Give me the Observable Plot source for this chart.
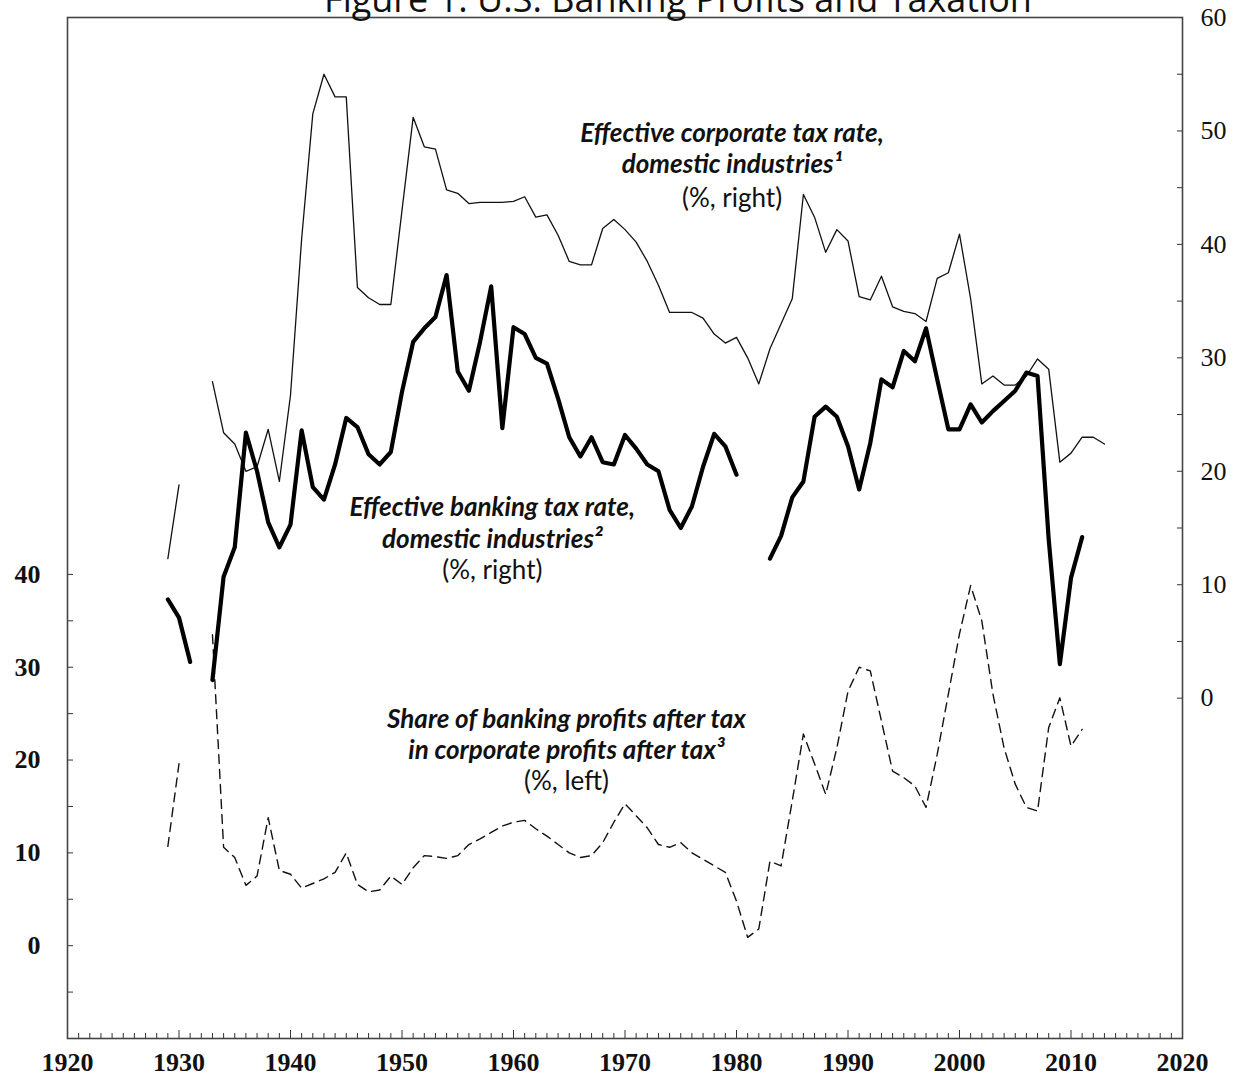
<!DOCTYPE html>
<html>
<head>
<meta charset="utf-8">
<script src="https://cdn.jsdelivr.net/npm/d3@7"></script>
<script src="https://cdn.jsdelivr.net/npm/@observablehq/plot@0.6"></script>
<style>
  html, body { margin: 0; padding: 0; background: white; }
  body { position: relative; width: 1242px; height: 1085px; overflow: hidden; }
  #title { position: absolute; top: -19px; left: 678px; transform: translateX(-50%);
           font-family: "Open Sans", sans-serif; font-size: 36px; line-height: 36px;
           white-space: nowrap; color: #111; z-index: 2; }
  #chart { position: absolute; top: 0; left: 0; }
</style>
</head>
<body>
<div id="title">Figure 1. U.S. Banking Profits and Taxation</div>
<div id="chart"></div>
<script>
// ---- Data ----
const years = d3.range(1929, 2014);

// Effective corporate tax rate, domestic industries (%, right axis)
const corporateRate = [
  12.3, 18.8, null, null, 27.9, 23.4, 22.4, 20.0, 20.4, 23.7, // 1929-1938
  19.1, 26.7, 40.5, 51.5, 55.0, 53.0, 53.0, 36.2, 35.3, 34.7, // 1939-1948
  34.7, 43.0, 51.2, 48.6, 48.4, 44.8, 44.5, 43.6, 43.7, 43.7, // 1949-1958
  43.7, 43.8, 44.2, 42.4, 42.6, 40.8, 38.5, 38.2, 38.2, 41.4, // 1959-1968
  42.2, 41.3, 40.2, 38.5, 36.4, 34.0, 34.0, 34.0, 33.5, 32.1, // 1969-1978
  31.3, 31.8, 30.0, 27.7, 30.8, 33.0, 35.2, 44.4, 42.4, 39.3, // 1979-1988
  41.3, 40.3, 35.4, 35.1, 37.2, 34.5, 34.1, 33.9, 33.2, 37.0, // 1989-1998
  37.5, 40.9, 35.2, 27.7, 28.4, 27.6, 27.6, 28.4, 29.9, 29.0, // 1999-2008
  20.8, 21.6, 23.0, 23.0, 22.4                                // 2009-2013
];

// Effective banking tax rate, domestic industries (%, right axis)
const bankingRate = [
  8.7, 7.1, 3.2, null, 1.6, 10.7, 13.3, 23.4, 20.0, 15.5,     // 1929-1938
  13.3, 15.3, 23.6, 18.6, 17.5, 20.6, 24.7, 23.9, 21.5, 20.6, // 1939-1948
  21.7, 27.0, 31.4, 32.6, 33.6, 37.3, 28.8, 27.1, 31.4, 36.3, // 1949-1958
  23.8, 32.7, 32.1, 30.0, 29.5, 26.4, 23.0, 21.3, 23.0, 20.8, // 1959-1968
  20.6, 23.2, 22.0, 20.6, 20.0, 16.6, 15.0, 16.9, 20.4, 23.3, // 1969-1978
  22.2, 19.7, null, null, 12.3, 14.3, 17.7, 19.1, 24.8, 25.7, // 1979-1988
  24.8, 22.2, 18.4, 22.5, 28.1, 27.4, 30.6, 29.7, 32.6, 28.1, // 1989-1998
  23.7, 23.7, 25.9, 24.3, 25.3, 26.2, 27.1, 28.7, 28.4, 14.0, // 1999-2008
  3.0, 10.6, 14.2, null, null                                 // 2009-2013
];

// Share of banking profits after tax in corporate profits after tax (%, left axis)
const bankingShare = [
  10.7, 19.6, null, null, 33.5, 10.6, 9.5, 6.5, 7.5, 13.8,    // 1929-1938
  8.1, 7.7, 6.2, 6.7, 7.2, 7.9, 10.0, 6.6, 5.8, 6.0,          // 1939-1948
  7.5, 6.6, 8.4, 9.7, 9.6, 9.4, 9.7, 10.9, 11.5, 12.2,        // 1949-1958
  12.9, 13.3, 13.5, 12.6, 11.8, 10.9, 10.0, 9.5, 9.7, 11.1,   // 1959-1968
  13.3, 15.3, 14.0, 12.7, 10.9, 10.6, 11.1, 10.0, 9.3, 8.6,   // 1969-1978
  7.9, 4.8, 0.9, 1.8, 9.1, 8.6, 15.6, 22.8, 19.6, 16.3,       // 1979-1988
  21.3, 27.4, 30.0, 29.6, 24.2, 18.8, 18.1, 17.2, 14.9, 20.6, // 1989-1998
  27.1, 33.6, 38.8, 35.0, 27.1, 21.3, 17.4, 14.9, 14.5, 23.5, // 1999-2008
  26.7, 21.5, 23.3, null, null                                // 2009-2013
];

// Axis ticks
const xMajorTicks = d3.range(1920, 2021, 10);
const xMinorTicks = d3.range(1920, 2021, 1).filter(d => d % 10 !== 0);
const leftTickValues = d3.range(-5, 41, 5);
const leftTickLabels = [0, 10, 20, 30, 40];
const rightTickValues = d3.range(0, 61, 5);
const rightTickLabels = [0, 10, 20, 30, 40, 50, 60];

// Series annotations (text lines)
const labelLines = [
  "Effective corporate tax rate,", "domestic industries\u00B9", "(%, right)",
  "Effective banking tax rate,", "domestic industries\u00B2", "(%, right)",
  "Share of banking profits after tax", "in corporate profits after tax\u00B3", "(%, left)"
];

// ---- Scales: left axis [-10,100] shares the frame with right axis [-30,60] ----
const LEFT = [-10, 100], RIGHT = [-30, 60];
const leftToRight = v => RIGHT[0] + (v - LEFT[0]) * (RIGHT[1] - RIGHT[0]) / (LEFT[1] - LEFT[0]);
const rightToLeft = r => LEFT[0] + (r - RIGHT[0]) * (LEFT[1] - LEFT[0]) / (RIGHT[1] - RIGHT[0]);

const rows = (vals, conv) => years.map((year, i) => ({
  year, value: vals[i] == null ? NaN : conv(vals[i])
}));
const corporateRows = rows(corporateRate, v => v);
const bankingRows = rows(bankingRate, v => v);
const shareRows = rows(bankingShare, leftToRight);

// annotation placement (year, right-axis value)
const labelPlacement = [
  [1979.6, 49.75, "head"], [1979.6, 47.0, "head"], [1979.6, 44.05, "unit"],
  [1958.1, 16.75, "head"], [1958.1, 13.95, "head"], [1958.1, 11.2, "unit"],
  [1964.75, -1.9, "head"], [1964.75, -4.6, "head"], [1964.75, -7.4, "unit"]
];
const labelRows = labelLines.map((t, i) => ({
  text: t, year: labelPlacement[i][0], value: labelPlacement[i][1], kind: labelPlacement[i][2]
}));

const serif = "'Liberation Serif', 'DejaVu Serif', serif";
const sans = "Lato, 'Open Sans', sans-serif";

const chart = Plot.plot({
  width: 1242,
  height: 1085,
  marginLeft: 67,
  marginRight: 60,
  marginTop: 17,
  marginBottom: 47,
  x: {domain: [1920, 2020], label: null},
  y: {domain: RIGHT, label: null},
  style: {background: "white", color: "#111"},
  marks: [
    // ticks (inward)
    Plot.axisX({ticks: xMinorTicks, tickSize: -5, text: null, label: null, stroke: "#333"}),
    Plot.axisX({ticks: xMajorTicks, tickSize: -8, text: null, label: null, stroke: "#333"}),
    Plot.axisX({ticks: xMajorTicks, tickSize: 0, tickPadding: 14, label: null,
      tickFormat: d => String(d), fontSize: 26, fontWeight: "bold", fontFamily: serif, fill: "#111"}),
    Plot.axisY({anchor: "left", ticks: leftTickValues.map(leftToRight), tickSize: -6, text: null, label: null, stroke: "#333"}),
    Plot.axisY({anchor: "left", ticks: leftTickLabels.map(leftToRight), tickSize: 0, tickPadding: 27, label: null,
      tickFormat: d => String(Math.round(rightToLeft(d))), fontSize: 26, fontWeight: "bold", fontFamily: serif, fill: "#111"}),
    Plot.axisY({anchor: "right", ticks: rightTickValues, tickSize: -6, text: null, label: null, stroke: "#333"}),
    Plot.axisY({anchor: "right", ticks: rightTickLabels, tickSize: 0, tickPadding: 18, label: null,
      tickFormat: d => String(d), fontSize: 26, fontFamily: serif, fill: "#111"}),
    Plot.frame({stroke: "#444", strokeWidth: 1.6}),
    // series
    Plot.line(shareRows, {x: "year", y: "value", stroke: "#111", strokeWidth: 1.4, strokeDasharray: "9,6"}),
    Plot.line(corporateRows, {x: "year", y: "value", stroke: "#111", strokeWidth: 1.3}),
    Plot.line(bankingRows, {x: "year", y: "value", stroke: "#000", strokeWidth: 4.2, strokeLinejoin: "round"}),
    // annotations
    Plot.text(labelRows.filter(d => d.kind === "head"), {x: "year", y: "value", text: "text",
      fontFamily: sans, fontSize: 26, fontWeight: "bold", fontStyle: "italic", fill: "#111"}),
    Plot.text(labelRows.filter(d => d.kind === "unit"), {x: "year", y: "value", text: "text",
      fontFamily: sans, fontSize: 26, fill: "#111"})
  ]
});
document.getElementById("chart").appendChild(chart);
</script>
</body>
</html>
